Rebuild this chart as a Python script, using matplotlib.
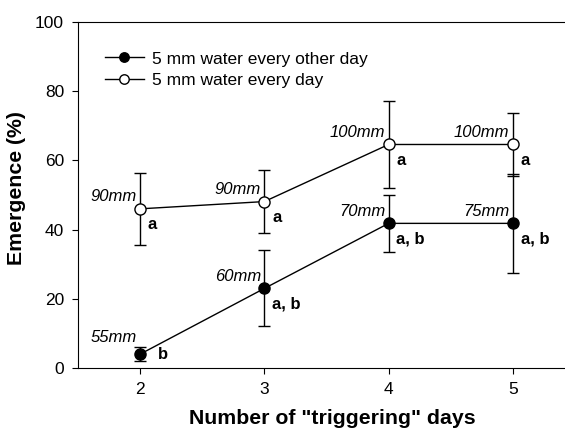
import matplotlib
matplotlib.use('Agg')
import matplotlib.pyplot as plt

plt.rcParams['font.family'] = ['Liberation Sans', 'DejaVu Sans']

days = [2, 3, 4, 5]
other_day = [4.0, 23.0, 41.8, 41.8]
other_day_err = [2.0, 11.0, 8.3, 14.3]
every_day = [46.0, 48.1, 64.6, 64.6]
every_day_err = [10.4, 9.1, 12.6, 9.2]
other_mm = ['55mm', '60mm', '70mm', '75mm']
every_mm = ['90mm', '90mm', '100mm', '100mm']
other_letters = ['b', 'a, b', 'a, b', 'a, b']
every_letters = ['a', 'a', 'a', 'a']

fig = plt.figure(figsize=(5.65, 4.29), dpi=100)
ax = fig.add_axes([78 / 565, 61 / 429, (575 - 78) / 565, 346 / 429])

c1 = ax.errorbar(days, other_day, yerr=other_day_err, color='black', marker='o',
                 markersize=8, markerfacecolor='black', linewidth=1, elinewidth=1,
                 capsize=4.5, capthick=1, zorder=3)
c2 = ax.errorbar(days, every_day, yerr=every_day_err, color='black', marker='o',
                 markersize=8, markerfacecolor='white', linewidth=1, elinewidth=1,
                 capsize=4.5, capthick=1, zorder=3)

# label offsets in points (mm label above-left, letter below-right)
mm_off = (-2.5, 5.5)
let_off = (5.5, -11.5)

for i, (x, y) in enumerate(zip(days, other_day)):
    dy = 8.5 if i == 0 else mm_off[1]
    ax.annotate(other_mm[i], (x, y), xytext=(mm_off[0], dy), textcoords='offset points',
                ha='right', va='baseline', fontsize=12, style='italic')
    off = (12.5, 0) if i == 0 else let_off
    ax.annotate(other_letters[i], (x, y), xytext=off, textcoords='offset points',
                ha='left', va='center', fontsize=12, fontweight='bold')
for i, (x, y) in enumerate(zip(days, every_day)):
    ax.annotate(every_mm[i], (x, y), xytext=mm_off, textcoords='offset points',
                ha='right', va='baseline', fontsize=12, style='italic')
    ax.annotate(every_letters[i], (x, y), xytext=let_off, textcoords='offset points',
                ha='left', va='center', fontsize=12, fontweight='bold')

ax.set_xlim(1.5, 5.5)
ax.set_ylim(0, 100)
ax.set_xticks(days)
ax.set_yticks([0, 20, 40, 60, 80, 100])
ax.tick_params(labelsize=12.5, direction='out', length=4, pad=6)
ax.spines['right'].set_visible(False)
ax.set_xlabel('Number of "triggering" days', fontsize=15.3, fontweight='bold')
ax.set_ylabel('Emergence (%)', fontsize=15.3, fontweight='bold')
ax.xaxis.set_label_coords(0.511, -0.118)
ax.yaxis.set_label_coords(-0.105, 0.52)

ax.legend([c1.lines[0], c2.lines[0]],
          ['5 mm water every other day', '5 mm water every day'],
          loc='upper left', bbox_to_anchor=(0.055, 0.915), frameon=False,
          fontsize=12.5, handlelength=2.2, handletextpad=0.5,
          labelspacing=0.35, borderaxespad=0, borderpad=0, markerscale=0.85)

fig.savefig('out.png', dpi=100)
